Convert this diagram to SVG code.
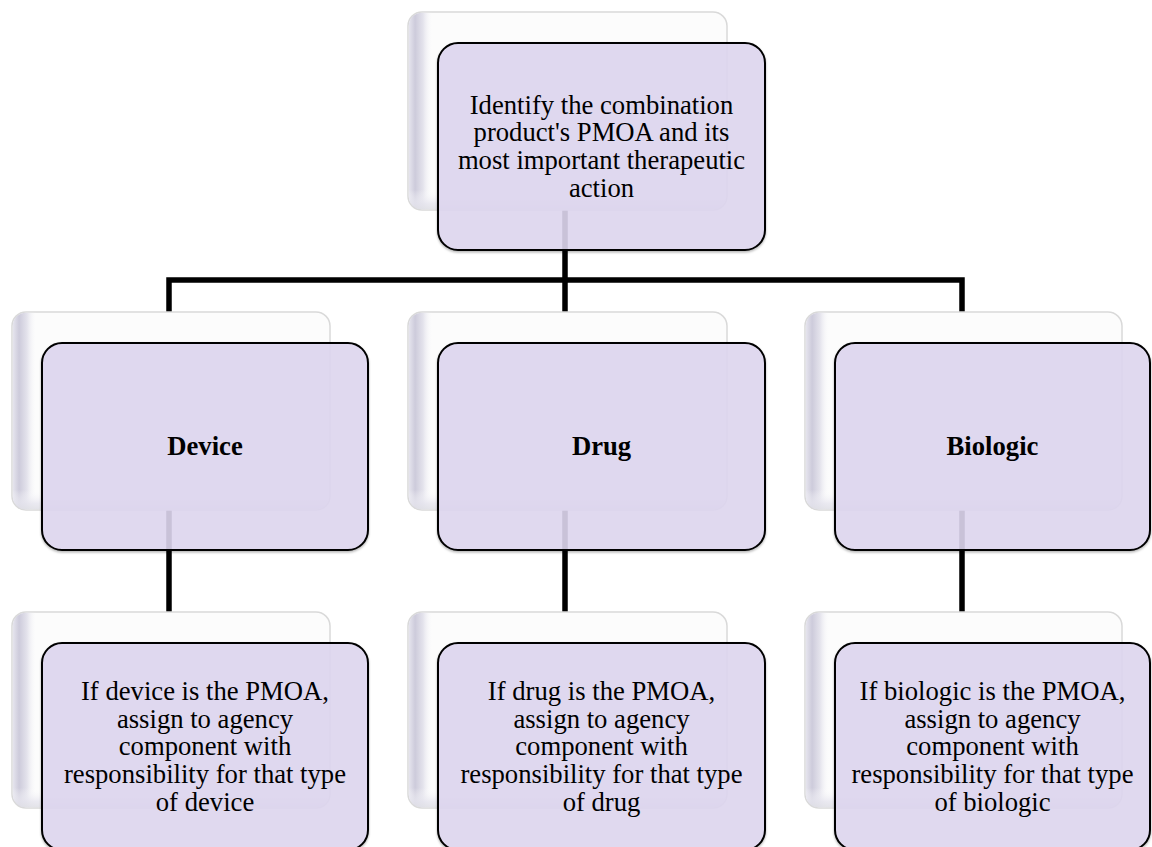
<svg xmlns="http://www.w3.org/2000/svg" width="1152" height="847" viewBox="0 0 1152 847">
<defs>
<linearGradient id="bevL" x1="0" y1="0" x2="1" y2="0">
<stop offset="0" stop-color="#e6e5ee"/>
<stop offset="0.02" stop-color="#cdcbdb"/>
<stop offset="0.045" stop-color="#e4e3ec"/>
<stop offset="0.075" stop-color="#fcfcfd" stop-opacity="0"/>
<stop offset="1" stop-color="#ffffff" stop-opacity="0"/>
</linearGradient>
<linearGradient id="bevB" x1="0" y1="0" x2="0" y2="1">
<stop offset="0" stop-color="#ffffff" stop-opacity="0"/>
<stop offset="0.9" stop-color="#ffffff" stop-opacity="0"/>
<stop offset="0.97" stop-color="#e6e5ee" stop-opacity="0.8"/>
<stop offset="1" stop-color="#e0e0e6" stop-opacity="0.9"/>
</linearGradient>
<filter id="ds" x="-5%" y="-5%" width="110%" height="112%">
<feDropShadow dx="0" dy="1.5" stdDeviation="1.2" flood-color="#000" flood-opacity="0.3"/>
</filter>
</defs>
<style>
.sh{fill:#fcfcfc;stroke:#d9d9d9;stroke-width:1.5}
.shl{fill:url(#bevL)}
.shb{fill:url(#bevB)}
.fr{fill:#e0d8f1;fill-opacity:0.88;stroke:#000;stroke-width:2;filter:url(#ds)}
.t{font-family:"Liberation Serif","Times New Roman",serif;font-size:26.67px;fill:#000;text-anchor:middle}
.b{font-weight:bold}
.c{fill:none;stroke:#000;stroke-width:5.5;stroke-linejoin:miter;stroke-linecap:butt}
</style>
<g id="connectors">
<path class="c" d="M565,205 V280"/>
<path class="c" d="M169,313 V280 H962 V313"/>
<path class="c" d="M565,280 V313"/>
<path class="c" d="M169,505 V613"/>
<path class="c" d="M565,505 V613"/>
<path class="c" d="M962,505 V613"/>
</g>
<g id="node-top">
<rect class="sh" x="408" y="12" width="319" height="198" rx="14"/>
<rect class="shl" x="408.8" y="12.8" width="317.4" height="196.4" rx="13"/>
<rect class="shb" x="408.8" y="12.8" width="317.4" height="196.4" rx="13"/>
<rect class="fr" x="438" y="43" width="327" height="207" rx="20"/>
<text class="t" x="601.5"><tspan x="601.5" y="113.7">Identify the combination</tspan><tspan x="601.5" y="141.4">product's PMOA and its</tspan><tspan x="601.5" y="169.1">most important therapeutic</tspan><tspan x="601.5" y="196.8">action</tspan></text>
</g>
<g id="node-device">
<rect class="sh" x="12" y="312" width="318" height="198" rx="14"/>
<rect class="shl" x="12.8" y="312.8" width="316.4" height="196.4" rx="13"/>
<rect class="shb" x="12.8" y="312.8" width="316.4" height="196.4" rx="13"/>
<rect class="fr" x="42" y="343" width="326" height="207" rx="20"/>
<text class="t b" x="205" y="455.3">Device</text>
</g>
<g id="node-drug">
<rect class="sh" x="408" y="312" width="319" height="198" rx="14"/>
<rect class="shl" x="408.8" y="312.8" width="317.4" height="196.4" rx="13"/>
<rect class="shb" x="408.8" y="312.8" width="317.4" height="196.4" rx="13"/>
<rect class="fr" x="438" y="343" width="327" height="207" rx="20"/>
<text class="t b" x="601.5" y="455.3">Drug</text>
</g>
<g id="node-biologic">
<rect class="sh" x="805" y="312" width="317" height="198" rx="14"/>
<rect class="shl" x="805.8" y="312.8" width="315.4" height="196.4" rx="13"/>
<rect class="shb" x="805.8" y="312.8" width="315.4" height="196.4" rx="13"/>
<rect class="fr" x="835" y="343" width="315" height="207" rx="20"/>
<text class="t b" x="992.5" y="455.3">Biologic</text>
</g>
<g id="node-device-assign">
<rect class="sh" x="12" y="612" width="318" height="196" rx="14"/>
<rect class="shl" x="12.8" y="612.8" width="316.4" height="194.4" rx="13"/>
<rect class="shb" x="12.8" y="612.8" width="316.4" height="194.4" rx="13"/>
<rect class="fr" x="42" y="643" width="326" height="207" rx="20"/>
<text class="t"><tspan x="205" y="700">If device is the PMOA,</tspan><tspan x="205" y="727.7">assign to agency</tspan><tspan x="205" y="755.3">component with</tspan><tspan x="205" y="783">responsibility for that type</tspan><tspan x="205" y="810.7">of device</tspan></text>
</g>
<g id="node-drug-assign">
<rect class="sh" x="408" y="612" width="319" height="196" rx="14"/>
<rect class="shl" x="408.8" y="612.8" width="317.4" height="194.4" rx="13"/>
<rect class="shb" x="408.8" y="612.8" width="317.4" height="194.4" rx="13"/>
<rect class="fr" x="438" y="643" width="327" height="207" rx="20"/>
<text class="t"><tspan x="601.5" y="700">If drug is the PMOA,</tspan><tspan x="601.5" y="727.7">assign to agency</tspan><tspan x="601.5" y="755.3">component with</tspan><tspan x="601.5" y="783">responsibility for that type</tspan><tspan x="601.5" y="810.7">of drug</tspan></text>
</g>
<g id="node-biologic-assign">
<rect class="sh" x="805" y="612" width="317" height="196" rx="14"/>
<rect class="shl" x="805.8" y="612.8" width="315.4" height="194.4" rx="13"/>
<rect class="shb" x="805.8" y="612.8" width="315.4" height="194.4" rx="13"/>
<rect class="fr" x="835" y="643" width="315" height="207" rx="20"/>
<text class="t"><tspan x="992.5" y="700">If biologic is the PMOA,</tspan><tspan x="992.5" y="727.7">assign to agency</tspan><tspan x="992.5" y="755.3">component with</tspan><tspan x="992.5" y="783">responsibility for that type</tspan><tspan x="992.5" y="810.7">of biologic</tspan></text>
</g>
</svg>
